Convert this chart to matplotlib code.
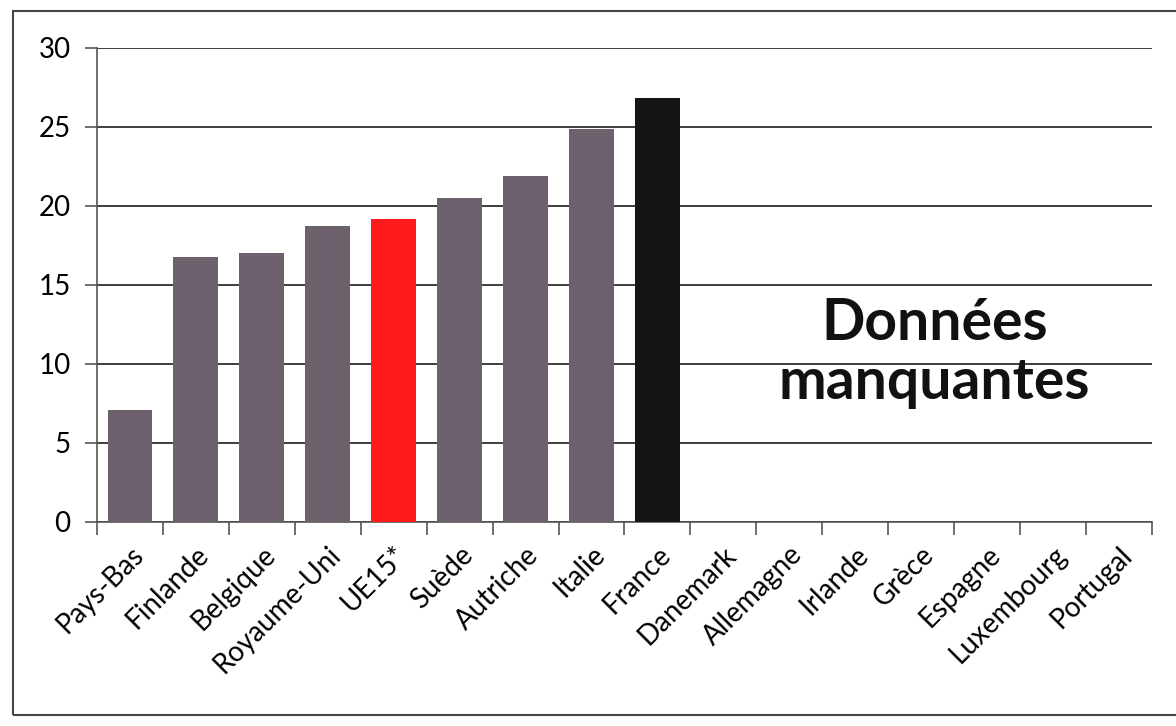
import numpy as np
import matplotlib.pyplot as plt
from matplotlib.patches import Rectangle

plt.rcParams['font.family'] = ['Lato', 'DejaVu Sans']

pays = ['Pays-Bas', 'Finlande', 'Belgique', 'Royaume-Uni', 'UE15*', 'Suède',
        'Autriche', 'Italie', 'France', 'Danemark', 'Allemagne', 'Irlande',
        'Grèce', 'Espagne', 'Luxembourg', 'Portugal']
valeurs = [7.1, 16.8, 17.0, 18.7, 19.2, 20.5, 21.9, 24.9, 26.8,
           np.nan, np.nan, np.nan, np.nan, np.nan, np.nan, np.nan]
couleurs = ['#6d616d'] * 4 + ['#ff1a1e'] + ['#6d616d'] * 3 + ['#161416'] + ['#6d616d'] * 7

fig = plt.figure(figsize=(11.76, 7.26), dpi=100)
ax = fig.add_axes([0.0825, 0.281, 0.897, 0.653])

x = np.arange(len(pays))
ax.bar(x, valeurs, width=0.68, color=couleurs, zorder=3)

ax.set_xlim(-0.5, len(pays) - 0.5)
ax.set_ylim(0, 30)
ax.set_yticks(np.arange(0, 31, 5))
ax.yaxis.grid(True, color='#2e2e2e', linewidth=1.3, zorder=0)
ax.tick_params(axis='y', length=9, width=1.2, color='#555555', labelsize=20, pad=10)

# ticks between categories, labels centered on bars
ax.set_xticks(np.arange(-0.5, len(pays), 1.0))
ax.set_xticklabels([])
ax.set_xticks(x, minor=True)
ax.set_xticklabels(pays, minor=True, rotation=45, ha='right', va='top',
                   rotation_mode='anchor', fontsize=20)
ax.tick_params(axis='x', which='major', length=9, width=1.2, color='#555555')
ax.tick_params(axis='x', which='minor', length=0, pad=14)

for s in ['top', 'right']:
    ax.spines[s].set_visible(False)
ax.spines['left'].set_color('#555555')
ax.spines['bottom'].set_color('#555555')
ax.spines['left'].set_linewidth(1.2)
ax.spines['bottom'].set_linewidth(1.2)

ax.text(12.2, 10.7, 'Données\nmanquantes', ha='center', va='center',
        fontsize=41, fontweight='bold', linespacing=1.15, color='#111111')

# outer frame of the chart
fig.patches.append(Rectangle((0.011, 0.015), 1.2, 0.97, transform=fig.transFigure,
                             fill=False, edgecolor='#444444', linewidth=1.5))

fig.savefig('out.png', dpi=100)
